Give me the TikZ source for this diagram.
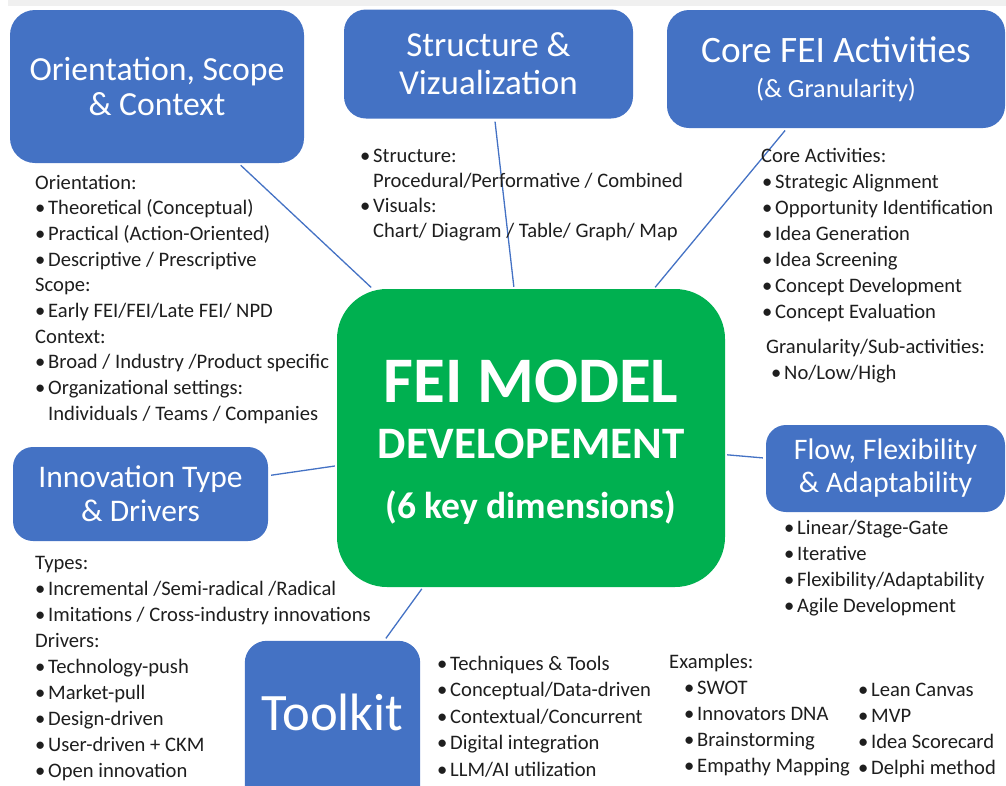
\documentclass[tikz,border=0pt]{standalone}
\usepackage{fontspec}
\setmainfont{Carlito}
\definecolor{fblue}{HTML}{4472C4}
\definecolor{fgreen}{HTML}{00B050}
\definecolor{ftext}{HTML}{1E1E1E}
\definecolor{fband}{HTML}{F0F0F0}
\newcommand\Ln[1]{\hbox{#1}}
\newcommand\Bl[1]{\hbox{\makebox[13pt][l]{\textbullet}#1}}
\newcommand\In[1]{\hbox{\hspace{13pt}#1}}
\newcommand\Blk[2]{\vtop{\baselineskip=#1pt\relax #2}}
\begin{document}
\begin{tikzpicture}[x=1pt,y=-1pt,
  bluebox/.style={fill=fblue, draw=none, rounded corners=22pt, text=white, align=center, inner sep=0pt},
  conn/.style={draw=fblue, line width=1.3pt, shorten <=3pt, shorten >=2pt},
  txtblock/.style={anchor=base west, inner sep=0pt, text=ftext, font=\fontsize{20.6}{25.8}\selectfont},
  gtext/.style={anchor=base, inner sep=0pt, text=white}]
\useasboundingbox (0,0) rectangle (1006,785);
\clip (0,0) rectangle (1006,785);
\fill[fband] (8,0) rectangle (1006,6);

% central node
\node[fill=fgreen, rounded corners=50pt, minimum width=388pt, minimum height=298pt, inner sep=0pt] (fei) at (531,438) {};
\node[gtext, font=\fontsize{65}{65}\selectfont\bfseries] (t1) at (531,402) {FEI MODEL};
\node[gtext, font=\fontsize{45}{45}\selectfont\bfseries] (t2) at (531,458) {DEVELOPEMENT};
\node[gtext, font=\fontsize{37.5}{37.5}\selectfont\bfseries] (t3) at (531,518) {(6 key dimensions)};

% blue boxes
\node[bluebox, minimum width=294pt, minimum height=153pt, rounded corners=25pt, font=\fontsize{33.7}{35}\selectfont] (ort) at (157,86.5) {Orientation, Scope\\\& Context};
\node[bluebox, minimum width=289pt, minimum height=109pt, font=\fontsize{35}{38}\selectfont] (stv) at (488.5,64) {Structure \&\\Vizualization};
\node[bluebox, minimum width=338pt, minimum height=118pt, font=\fontsize{37.3}{35}\selectfont] (core) at (836,69) {Core FEI Activities\\{\fontsize{26.3}{26}\selectfont(\& Granularity)}};
\node[bluebox, minimum width=255pt, minimum height=94pt, rounded corners=20pt, font=\fontsize{31.5}{34}\selectfont] (inn) at (140.5,494) {Innovation Type\\\& Drivers};
\node[bluebox, minimum width=239pt, minimum height=87pt, rounded corners=20pt, font=\fontsize{29.8}{33}\selectfont] (flow) at (885.5,468.5) {Flow, Flexibility\\\& Adaptability};
\node[minimum width=175pt, minimum height=142pt, inner sep=0pt] (tk) at (332.5,712) {};
\fill[fblue, rounded corners=22pt] (tk.north west) rectangle ([yshift=-60pt]tk.south east);
\node[inner sep=0pt, text=white, font=\fontsize{52.6}{52.6}\selectfont] (tkt) at (tk.center) {Toolkit};

% connectors
\draw[conn] (ort) -- (fei);
\draw[conn] (stv) -- (fei);
\draw[conn] (core) -- (fei);
\draw[conn] (inn) -- (fei);
\draw[conn] (flow) -- (fei);
\draw[conn] (tk) -- (fei);

% text blocks
\node[txtblock] (b1) at (35,189) {\Blk{25.7}{%
  \Ln{Orientation:}
  \Bl{Theoretical (Conceptual)}
  \Bl{Practical (Action-Oriented)}
  \Bl{Descriptive / Prescriptive}
  \Ln{Scope:}
  \Bl{Early FEI/FEI/Late FEI/ NPD}
  \Ln{Context:}
  \Bl{Broad / Industry /Product specific}
  \Bl{Organizational settings:}
  \In{Individuals / Teams / Companies}}};

\node[txtblock] (b2) at (360,162) {\Blk{25.2}{%
  \Bl{Structure:}
  \In{Procedural/Performative / Combined}
  \Bl{Visuals:}
  \In{Chart/ Diagram / Table/ Graph/ Map}}};

\node[txtblock] (b3) at (762,162) {\Blk{26}{%
  \Ln{\hspace{-1pt}Core Activities:}
  \Bl{Strategic Alignment}
  \Bl{Opportunity Identification}
  \Bl{Idea Generation}
  \Bl{Idea Screening}
  \Bl{Concept Development}
  \Bl{Concept Evaluation}}};

\node[txtblock] (b4) at (766,353) {\Blk{26}{%
  \Ln{Granularity/Sub-activities:}
  \hbox{\hspace{5pt}\makebox[13pt][l]{\textbullet}No/Low/High}}};

\node[txtblock] (b5) at (35,569) {\Blk{26.1}{%
  \Ln{Types:}
  \Bl{Incremental /Semi-radical /Radical}
  \Bl{Imitations / Cross-industry innovations}
  \Ln{Drivers:}
  \Bl{Technology-push}
  \Bl{Market-pull}
  \Bl{Design-driven}
  \Bl{User-driven + CKM}
  \Bl{Open innovation}}};

\node[txtblock] (b6) at (784,534) {\Blk{26}{%
  \Bl{Linear/Stage-Gate}
  \Bl{Iterative}
  \Bl{Flexibility/Adaptability}
  \Bl{Agile Development}}};

\node[txtblock] (b7) at (437,670) {\Blk{26.5}{%
  \Bl{Techniques \& Tools}
  \Bl{Conceptual/Data-driven}
  \Bl{Contextual/Concurrent}
  \Bl{Digital integration}
  \Bl{LLM/AI utilization}}};

\node[txtblock] (b8) at (669,668) {\Blk{26}{%
  \Ln{Examples:}
  \hbox{\hspace{15pt}\makebox[13pt][l]{\textbullet}SWOT}
  \hbox{\hspace{15pt}\makebox[13pt][l]{\textbullet}Innovators DNA}
  \hbox{\hspace{15pt}\makebox[13pt][l]{\textbullet}Brainstorming}
  \hbox{\hspace{15pt}\makebox[13pt][l]{\textbullet}Empathy Mapping}}};

\node[txtblock] (b9) at (858,696) {\Blk{26}{%
  \Bl{Lean Canvas}
  \Bl{MVP}
  \Bl{Idea Scorecard}
  \Bl{Delphi method}}};
\end{tikzpicture}
\end{document}
